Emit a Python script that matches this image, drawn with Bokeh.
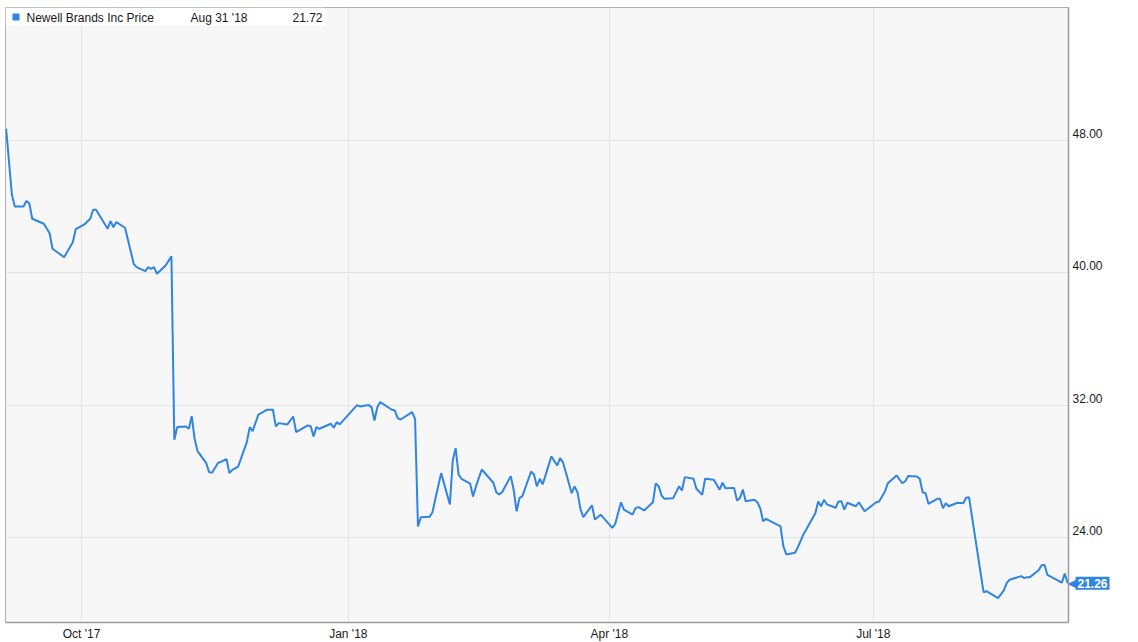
import datetime as dt
import pandas as pd
from bokeh.plotting import figure
from bokeh.models import (ColumnDataSource, FixedTicker, MonthsTicker, DatetimeTickFormatter,
                          Range1d, Label, BoxAnnotation)
from bokeh.embed import file_html
from bokeh.resources import INLINE

# ---------------- data ----------------
dates = [
    "2017-09-05", "2017-09-07", "2017-09-08", "2017-09-11", "2017-09-12", "2017-09-13",
    "2017-09-14", "2017-09-18", "2017-09-20", "2017-09-21", "2017-09-25", "2017-09-28",
    "2017-09-29", "2017-10-02", "2017-10-04", "2017-10-05", "2017-10-06", "2017-10-10",
    "2017-10-11", "2017-10-12", "2017-10-13", "2017-10-16", "2017-10-19", "2017-10-20",
    "2017-10-23", "2017-10-24", "2017-10-25", "2017-10-26", "2017-10-27", "2017-10-30",
    "2017-11-01", "2017-11-02", "2017-11-03", "2017-11-06", "2017-11-07", "2017-11-08",
    "2017-11-09", "2017-11-10", "2017-11-13", "2017-11-14", "2017-11-15", "2017-11-17",
    "2017-11-20", "2017-11-21", "2017-11-22", "2017-11-24", "2017-11-27", "2017-11-28",
    "2017-11-29", "2017-12-01", "2017-12-04", "2017-12-06", "2017-12-07", "2017-12-08",
    "2017-12-11", "2017-12-13", "2017-12-14", "2017-12-18", "2017-12-19", "2017-12-20",
    "2017-12-21", "2017-12-22", "2017-12-26", "2017-12-27", "2017-12-28", "2017-12-29",
    "2018-01-04", "2018-01-05", "2018-01-08", "2018-01-09", "2018-01-10", "2018-01-11",
    "2018-01-12", "2018-01-16", "2018-01-17", "2018-01-18", "2018-01-19", "2018-01-23",
    "2018-01-24", "2018-01-25", "2018-01-26", "2018-01-29", "2018-01-30", "2018-01-31",
    "2018-02-02", "2018-02-05", "2018-02-06", "2018-02-07", "2018-02-08", "2018-02-09",
    "2018-02-12", "2018-02-13", "2018-02-14", "2018-02-16", "2018-02-20", "2018-02-21",
    "2018-02-22", "2018-02-23", "2018-02-26", "2018-02-27", "2018-02-28", "2018-03-01",
    "2018-03-02", "2018-03-05", "2018-03-06", "2018-03-07", "2018-03-08", "2018-03-09",
    "2018-03-12", "2018-03-14", "2018-03-15", "2018-03-16", "2018-03-19", "2018-03-20",
    "2018-03-21", "2018-03-22", "2018-03-23", "2018-03-26", "2018-03-27", "2018-03-29",
    "2018-04-02", "2018-04-03", "2018-04-05", "2018-04-06", "2018-04-09", "2018-04-10",
    "2018-04-11", "2018-04-13", "2018-04-16", "2018-04-17", "2018-04-18", "2018-04-19",
    "2018-04-20", "2018-04-23", "2018-04-25", "2018-04-26", "2018-04-27", "2018-04-30",
    "2018-05-01", "2018-05-03", "2018-05-04", "2018-05-07", "2018-05-09", "2018-05-10",
    "2018-05-11", "2018-05-14", "2018-05-15", "2018-05-16", "2018-05-17", "2018-05-18",
    "2018-05-21", "2018-05-22", "2018-05-23", "2018-05-24", "2018-05-25", "2018-05-30",
    "2018-05-31", "2018-06-01", "2018-06-04", "2018-06-05", "2018-06-07", "2018-06-08",
    "2018-06-11", "2018-06-12", "2018-06-13", "2018-06-14", "2018-06-15", "2018-06-18",
    "2018-06-19", "2018-06-20", "2018-06-21", "2018-06-22", "2018-06-25", "2018-06-26",
    "2018-06-28", "2018-07-02", "2018-07-03", "2018-07-05", "2018-07-06", "2018-07-09",
    "2018-07-11", "2018-07-12", "2018-07-13", "2018-07-16", "2018-07-17", "2018-07-18",
    "2018-07-19", "2018-07-20", "2018-07-23", "2018-07-24", "2018-07-25", "2018-07-26",
    "2018-07-27", "2018-07-30", "2018-08-01", "2018-08-02", "2018-08-03", "2018-08-08",
    "2018-08-09", "2018-08-13", "2018-08-15", "2018-08-16", "2018-08-17", "2018-08-21",
    "2018-08-22", "2018-08-23", "2018-08-24", "2018-08-27", "2018-08-28", "2018-08-29",
    "2018-08-30", "2018-09-04", "2018-09-05", "2018-09-06",
]
prices = [
    48.71, 44.72, 44.01, 44.01, 44.34, 44.21,
    43.27, 42.97, 42.40, 41.46, 40.95, 41.86,
    42.64, 42.93, 43.27, 43.82, 43.82, 42.67,
    43.13, 42.76, 43.07, 42.73, 40.55, 40.35,
    40.11, 40.35, 40.25, 40.35, 39.95, 40.45,
    41.00, 29.93, 30.69, 30.73, 30.59, 31.35,
    29.98, 29.24, 28.51, 27.97, 27.93, 28.51,
    28.75, 27.91, 28.11, 28.31, 29.78, 30.69,
    30.45, 31.45, 31.74, 31.74, 30.73, 30.93,
    30.85, 31.33, 30.39, 30.79, 30.75, 30.13,
    30.69, 30.59, 30.89, 30.65, 30.99, 30.85,
    32.02, 31.94, 32.02, 31.90, 31.09, 31.90,
    32.20, 31.74, 31.70, 31.23, 31.15, 31.60,
    31.19, 24.69, 25.25, 25.27, 25.55, 26.36,
    27.91, 26.02, 28.67, 29.42, 27.83, 27.57,
    27.27, 26.50, 27.11, 28.13, 27.33, 26.76,
    26.62, 26.76, 27.73, 26.91, 25.60, 26.40,
    26.52, 28.01, 27.83, 27.11, 27.57, 27.23,
    28.92, 28.37, 28.82, 28.57, 26.70, 27.11,
    26.76, 25.76, 25.25, 25.96, 25.11, 25.40,
    24.60, 24.84, 26.15, 25.71, 25.40, 25.80,
    25.86, 25.66, 26.15, 27.29, 27.11, 26.56,
    26.36, 26.40, 27.11, 26.86, 27.67, 27.57,
    26.97, 26.60, 27.57, 27.51, 26.91, 27.33,
    27.00, 27.02, 26.26, 26.40, 26.92, 26.21,
    26.30, 26.15, 25.79, 25.01, 25.15, 24.69,
    23.48, 23.00, 23.10, 23.44, 24.25, 24.55,
    25.49, 26.20, 25.91, 26.30, 26.02, 25.82,
    26.20, 26.21, 25.70, 26.12, 25.91, 26.15,
    25.61, 26.15, 26.20, 26.80, 27.30, 27.77,
    27.30, 27.42, 27.73, 27.71, 27.57, 26.76,
    26.70, 26.06, 26.36, 26.36, 25.79, 26.09,
    25.91, 26.12, 26.09, 26.42, 26.45, 20.72,
    20.78, 20.36, 20.83, 21.28, 21.47, 21.69,
    21.57, 21.63, 21.63, 22.05, 22.34, 22.38,
    21.77, 21.30, 21.84, 21.26,
]

series_name = "Newell Brands Inc Price"
legend_date = "Aug 31 '18"
legend_price = 21.72
price_ticks = [24, 32, 40, 48]
month_ticks = [0, 3, 6, 9]          # Jan, Apr, Jul, Oct
x_start = dt.datetime(2017, 9, 4, 19)
x_end = dt.datetime(2018, 9, 6, 7)
y_lo, y_hi = 18.89, 56.03

# ---------------- style ----------------
BLUE = "#2f84e4"
FONT = "Liberation Sans"
FRAME_W, FRAME_H = 1063, 615
PX_PER_UNIT = FRAME_H / (y_hi - y_lo)
MS_PER_PX = (x_end - x_start).total_seconds() * 1000 / FRAME_W
LIFT = round(7 / PX_PER_UNIT, 4)     # labels sit just above their gridline

src = ColumnDataSource(dict(date=pd.to_datetime(dates), price=prices))

p = figure(frame_width=FRAME_W, frame_height=FRAME_H,
           x_axis_type="datetime", y_axis_location="right",
           x_range=Range1d(x_start, x_end), y_range=Range1d(y_lo, y_hi),
           output_backend="svg", toolbar_location=None,
           min_border_left=5, min_border_top=7, min_border_right=0, min_border_bottom=18,
           background_fill_color="#f7f7f7", border_fill_color="white",
           outline_line_color="#b0b0b0", outline_line_width=1)

xa = p.xaxis[0]
xa.ticker = MonthsTicker(months=month_ticks)
xa.formatter = DatetimeTickFormatter(days="%b '%y", months="%b '%y", years="%b '%y")
p.xgrid.ticker = MonthsTicker(months=month_ticks)

ya = p.yaxis[0]
lifted = [round(t + LIFT, 4) for t in price_ticks]
ya.ticker = FixedTicker(ticks=lifted)
ya.major_label_overrides = {k: f"{t:.2f}" for k, t in zip(lifted, price_ticks)}
p.ygrid.ticker = FixedTicker(ticks=price_ticks)

for ax in (xa, ya):
    ax.major_tick_line_color = None
    ax.minor_tick_line_color = None
    ax.major_tick_out = 0
    ax.major_tick_in = 0
    ax.minor_tick_out = 0
    ax.minor_tick_in = 0
    ax.axis_line_color = "#9a9a9a"
    ax.axis_line_width = 1.5
    ax.major_label_text_font = FONT
    ax.major_label_text_font_size = "12px"
    ax.major_label_text_color = "#1a1a1a"
    ax.major_label_standoff = 4

p.grid.grid_line_color = "#e4e4e4"
p.grid.grid_line_width = 1

p.line("date", "price", source=src, line_color=BLUE, line_width=2)

# ---------------- legend strip (top-left) ----------------
p.add_layout(BoxAnnotation(left=0, right=320, top=FRAME_H, bottom=FRAME_H - 18,
                           left_units="screen", right_units="screen",
                           top_units="screen", bottom_units="screen",
                           fill_color="white", fill_alpha=0.92, line_color=None))
p.add_layout(BoxAnnotation(left=7, right=14, top=FRAME_H - 6, bottom=FRAME_H - 13,
                           left_units="screen", right_units="screen",
                           top_units="screen", bottom_units="screen",
                           fill_color=BLUE, fill_alpha=1, line_color=None))
for xs, txt in ((21, series_name), (185, legend_date), (287, f"{legend_price:.2f}")):
    p.add_layout(Label(x=xs, y=FRAME_H - 10, x_units="screen", y_units="screen",
                       text=txt, text_font=FONT, text_font_size="12px",
                       text_color="#1a1a1a", text_baseline="middle", text_align="left"))

# ---------------- last price tag (in the right side panel, outside the frame) ----------------
last = prices[-1]
end_ms = pd.Timestamp(x_end).value / 1e6
p.add_layout(Label(x=end_ms - 1 * MS_PER_PX, y=last, x_units="data", y_units="data",
                   text="\u25C0", text_font="DejaVu Sans", text_font_size="15px",
                   text_color=BLUE, text_baseline="middle", text_align="left"), "right")
p.add_layout(Label(x=end_ms + 7 * MS_PER_PX, y=last, x_units="data", y_units="data",
                   text=f"{last:.2f}", text_font=FONT, text_font_size="12px",
                   text_font_style="bold", text_color="white",
                   background_fill_color=BLUE, background_fill_alpha=1,
                   text_baseline="middle", text_align="left", padding=2), "right")

open("out.html", "w").write(file_html(p, INLINE))
